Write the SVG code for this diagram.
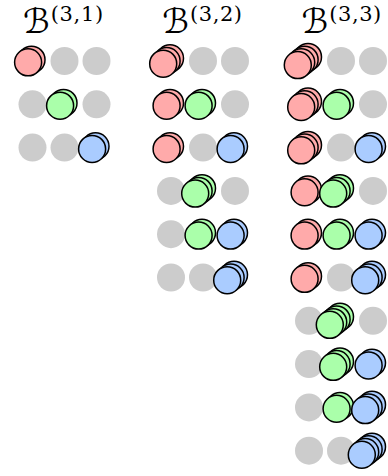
<svg xmlns="http://www.w3.org/2000/svg" xmlns:xlink="http://www.w3.org/1999/xlink" width="388" height="476" viewBox="0 0 388 476">
<style>
.e{fill:#cccccc}
.r{fill:#ffaaaa}
.g{fill:#aaffaa}
.b{fill:#aaccff}
.st circle{stroke:#000;stroke-width:1.5}
.B{font-family:"DejaVu Serif","DejaVu Sans",serif;font-size:34px;font-style:italic;fill:#000}
.sup{font-family:"DejaVu Serif",serif;font-size:21px;fill:#000}
</style>
<defs>
<g id="s2" class="st"><circle cx="-1" cy="-1.35" r="13.5"/><circle cx="-4.4" cy="1.35" r="13.5"/></g>
<g id="s3" class="st"><circle cx="-1" cy="-2.7" r="13.5"/><circle cx="-4.4" cy="0" r="13.5"/><circle cx="-7.8" cy="2.7" r="13.5"/></g>
<g id="s4" class="st"><circle cx="-1" cy="-4.05" r="13.5"/><circle cx="-4.4" cy="-1.35" r="13.5"/><circle cx="-7.8" cy="1.35" r="13.5"/><circle cx="-11.2" cy="4.05" r="13.5"/></g>
<circle id="e" r="14"/>
</defs>
<g id="titles">
<g id="title1"><text class="B" x="23" y="32.5">ℬ</text><text class="sup" x="50.7" y="20.5" textLength="52.5" lengthAdjust="spacing">(3,1)</text></g>
<g id="title2"><text class="B" x="162.3" y="32.5">ℬ</text><text class="sup" x="190" y="20.5" textLength="52" lengthAdjust="spacing">(3,2)</text></g>
<g id="title3"><text class="B" x="301.6" y="32.5">ℬ</text><text class="sup" x="329.3" y="20.5" textLength="52" lengthAdjust="spacing">(3,3)</text></g>
</g>
<g id="col1">
<g id="c1r1"><use href="#s2" class="r" x="32.5" y="61"/><use href="#e" class="e" x="64.5" y="61"/><use href="#e" class="e" x="96.5" y="61"/></g>
<g id="c1r2"><use href="#e" class="e" x="32.5" y="104.3"/><use href="#s2" class="g" x="64.5" y="104.3"/><use href="#e" class="e" x="96.5" y="104.3"/></g>
<g id="c1r3"><use href="#e" class="e" x="32.5" y="147.6"/><use href="#e" class="e" x="64.5" y="147.6"/><use href="#s2" class="b" x="96.5" y="147.6"/></g>
</g>
<g id="col2">
<g id="c2r1"><use href="#s3" class="r" x="171" y="61"/><use href="#e" class="e" x="203" y="61"/><use href="#e" class="e" x="235" y="61"/></g>
<g id="c2r2"><use href="#s2" class="r" x="171" y="104.3"/><use href="#s2" class="g" x="203" y="104.3"/><use href="#e" class="e" x="235" y="104.3"/></g>
<g id="c2r3"><use href="#s2" class="r" x="171" y="147.6"/><use href="#e" class="e" x="203" y="147.6"/><use href="#s2" class="b" x="235" y="147.6"/></g>
<g id="c2r4"><use href="#e" class="e" x="171" y="190.9"/><use href="#s3" class="g" x="203" y="190.9"/><use href="#e" class="e" x="235" y="190.9"/></g>
<g id="c2r5"><use href="#e" class="e" x="171" y="234.2"/><use href="#s2" class="g" x="203" y="234.2"/><use href="#s2" class="b" x="235" y="234.2"/></g>
<g id="c2r6"><use href="#e" class="e" x="171" y="277.5"/><use href="#e" class="e" x="203" y="277.5"/><use href="#s3" class="b" x="235" y="277.5"/></g>
</g>
<g id="col3">
<g id="c3r1"><use href="#s4" class="r" x="309" y="61"/><use href="#e" class="e" x="341" y="61"/><use href="#e" class="e" x="373" y="61"/></g>
<g id="c3r2"><use href="#s3" class="r" x="309" y="104.3"/><use href="#s2" class="g" x="341" y="104.3"/><use href="#e" class="e" x="373" y="104.3"/></g>
<g id="c3r3"><use href="#s3" class="r" x="309" y="147.6"/><use href="#e" class="e" x="341" y="147.6"/><use href="#s2" class="b" x="373" y="147.6"/></g>
<g id="c3r4"><use href="#s2" class="r" x="309" y="190.9"/><use href="#s3" class="g" x="341" y="190.9"/><use href="#e" class="e" x="373" y="190.9"/></g>
<g id="c3r5"><use href="#s2" class="r" x="309" y="234.2"/><use href="#s2" class="g" x="341" y="234.2"/><use href="#s2" class="b" x="373" y="234.2"/></g>
<g id="c3r6"><use href="#s2" class="r" x="309" y="277.5"/><use href="#e" class="e" x="341" y="277.5"/><use href="#s3" class="b" x="373" y="277.5"/></g>
<g id="c3r7"><use href="#e" class="e" x="309" y="320.8"/><use href="#s4" class="g" x="341" y="320.8"/><use href="#e" class="e" x="373" y="320.8"/></g>
<g id="c3r8"><use href="#e" class="e" x="309" y="364.1"/><use href="#s3" class="g" x="341" y="364.1"/><use href="#s2" class="b" x="373" y="364.1"/></g>
<g id="c3r9"><use href="#e" class="e" x="309" y="407.4"/><use href="#s2" class="g" x="341" y="407.4"/><use href="#s3" class="b" x="373" y="407.4"/></g>
<g id="c3r10"><use href="#e" class="e" x="309" y="450.7"/><use href="#e" class="e" x="341" y="450.7"/><use href="#s4" class="b" x="373" y="450.7"/></g>
</g>
<g id="connectors"/>
</svg>
